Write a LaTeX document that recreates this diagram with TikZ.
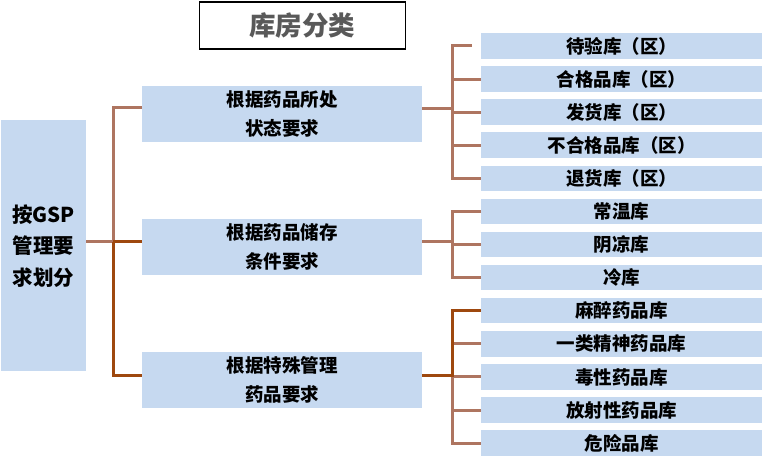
\documentclass[tikz,border=0pt]{standalone}
\usepackage{fontspec}
\setmainfont{Noto Sans CJK SC}
\definecolor{boxfill}{HTML}{C6D9F0}
\definecolor{tanline}{HTML}{AE7560}
\definecolor{darkline}{HTML}{9E480E}
\definecolor{titlegray}{HTML}{595959}
\tikzset{
  bluebox/.style={fill=boxfill, draw=none, inner sep=0pt, anchor=north west, font=\bfseries},
  midbox/.style={bluebox, minimum width=280pt, minimum height=55.5pt, align=center,
     font=\fontsize{18.5pt}{29pt}\selectfont\bfseries},
  rbox/.style={bluebox, minimum width=281pt, minimum height=25.5pt,
     font=\fontsize{18.5pt}{20pt}\selectfont\bfseries},
  tanc/.style={draw=tanline, line width=3pt},
  darkc/.style={draw=darkline, line width=3pt},
}
\begin{document}
\begin{tikzpicture}[x=1pt,y=-1pt]
\useasboundingbox (0,0) rectangle (764,457);
% title
\node[draw=black, line width=1.6pt, minimum width=206pt, minimum height=47pt, inner sep=0pt,
  anchor=north west, text=titlegray, font=\fontsize{26.5pt}{30pt}\selectfont\bfseries]
  (T) at (198.5,1.5) {库房分类};
% left box
\node[bluebox, minimum width=85pt, minimum height=251pt, align=center,
  font=\fontsize{20.5pt}{31.5pt}\selectfont\bfseries] (L) at (1,120) {按GSP\\管理要\\求划分};
% middle boxes
\node[midbox] (M1) at (142,86) {根据药品所处\\状态要求};
\node[midbox] (M2) at (142,219) {根据药品储存\\条件要求};
\node[midbox] (M3) at (142,352) {根据特殊管理\\药品要求};
% right boxes
\foreach \i/\t in {1/待验库（区）,2/合格品库（区）,3/发货库（区）,4/不合格品库（区）,5/退货库（区）,
  6/常温库,7/阴凉库,8/冷库,9/麻醉药品库,10/一类精神药品库,11/毒性药品库,12/放射性药品库,13/危险品库}
  \node[rbox] (R\i) at (481,{33+33.1*(\i-1)}) {\t};
% left bus
\coordinate (j0) at (113,242);
\coordinate (b1) at (113,108);
\coordinate (b3) at (113,376);
\draw[tanc] (L.east |- j0) -- (j0);
\draw[tanc] (M1.west |- b1) -- (b1) -- (j0);
\draw[darkc] (j0) -- (M2.west |- j0);
\draw[darkc] (j0) -- (b3) -- (M3.west |- b3);
% group 1
\coordinate (g1) at (452,109);
\draw[tanc] (M1.east |- g1) -- (g1);
\draw[tanc] ([xshift=-9pt]R1.west) -- (R1.west -| g1) -- (R5.west -| g1) -- (R5.west);
\foreach \i in {2,3,4} \draw[tanc] (R\i.west -| g1) -- (R\i.west);
% group 2
\coordinate (g2) at (452,242);
\draw[tanc] (M2.east |- g2) -- (g2);
\draw[tanc] (R6.west) -- (R6.west -| g2) -- (R8.west -| g2) -- (R8.west);
\draw[tanc] (R7.west -| g2) -- (R7.west);
% group 3
\coordinate (g3) at (452,376);
\draw[tanc] (g3) -- (R13.west -| g3) -- (R13.west);
\foreach \i in {10,11,12} \draw[tanc] (R\i.west -| g3) -- (R\i.west);
\draw[darkc] (M3.east |- g3) -- (g3) -- (R9.west -| g3) -- (R9.west);
\end{tikzpicture}
\end{document}
